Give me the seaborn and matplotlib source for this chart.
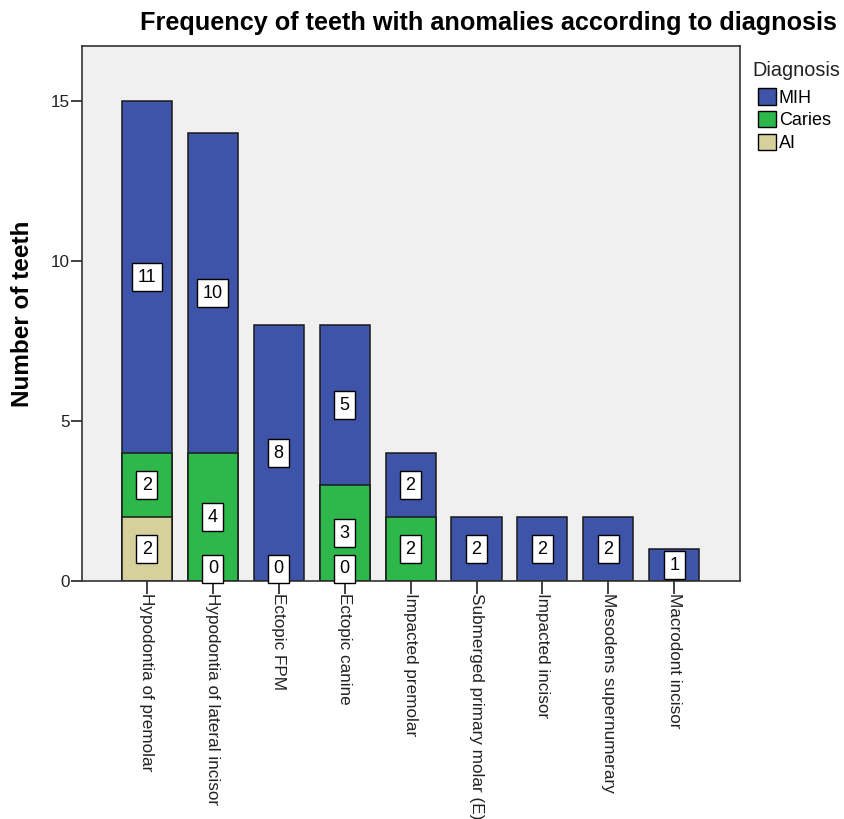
import numpy as np
import pandas as pd
import seaborn as sns
import matplotlib.pyplot as plt
from matplotlib.patches import Patch

categories = ['Hypodontia of premolar', 'Hypodontia of lateral incisor', 'Ectopic FPM',
              'Ectopic canine', 'Impacted premolar', 'Submerged primary molar (E)',
              'Impacted incisor', 'Mesodens supernumerary', 'Macrodont incisor']
ai = [2, 0, 0, 0, np.nan, np.nan, np.nan, np.nan, np.nan]
caries = [2, 4, np.nan, 3, 2, np.nan, np.nan, np.nan, np.nan]
mih = [11, 10, 8, 5, 2, 2, 2, 2, 1]

colors = {'MIH': '#3d54a8', 'Caries': '#2eb84b', 'AI': '#d6d09c'}

df = pd.DataFrame({'category': categories, 'AI': ai, 'Caries': caries, 'MIH': mih})
df['lvl_ai'] = df['AI'].fillna(0)
df['lvl_caries'] = df['lvl_ai'] + df['Caries'].fillna(0)
df['lvl_mih'] = df['lvl_caries'] + df['MIH'].fillna(0)

sns.set_style('white')
plt.rcParams['font.family'] = ['Liberation Sans', 'DejaVu Sans']
plt.rcParams['text.color'] = 'black'
plt.rcParams['axes.labelcolor'] = 'black'

fig = plt.figure(figsize=(8.45, 8.19), dpi=100)
ax = fig.add_axes([0.097, 0.2906, 0.779, 0.6532])
ax.set_facecolor('#f0f0f0')

# stacked bars: draw cumulative heights from the top layer down
for lvl, key in [('lvl_mih', 'MIH'), ('lvl_caries', 'Caries'), ('lvl_ai', 'AI')]:
    sns.barplot(data=df, x='category', y=lvl, color=colors[key], order=categories,
                width=0.76, edgecolor='#1a1a1a', linewidth=1.1, saturation=1, ax=ax)

# value labels
box = dict(boxstyle='square,pad=0.3', facecolor='white', edgecolor='black', linewidth=1.0)
for i, row in df.iterrows():
    base = 0.0
    for key in ['AI', 'Caries', 'MIH']:
        v = row[key]
        if pd.isna(v):
            continue
        if v == 0:
            ax.text(i, 0.12, '0', ha='center', va='bottom', fontsize=13, bbox=box, zorder=5)
        else:
            ax.text(i, base + v / 2, f'{int(v)}', ha='center', va='center', fontsize=13,
                    bbox=box, zorder=5)
        base += v

ax.set_xlim(-0.985, 9.0)
ax.set_ylim(0, 16.72)
ax.set_yticks([0, 5, 10, 15])
ax.set_xlabel('')
ax.set_ylabel('Number of teeth', fontsize=17.5, fontweight='bold', labelpad=12)
ax.set_xticks(range(len(categories)))
ax.set_xticklabels(categories, rotation=270, ha='center', va='top', fontsize=12.3)
ax.tick_params(axis='y', left=True, labelsize=12.3, length=8, width=1.3, color='#333333',
               labelcolor='#222222', pad=1)
ax.tick_params(axis='x', bottom=True, length=9, width=1.3, color='#333333',
               labelcolor='#222222', pad=0)
for s in ax.spines.values():
    s.set_color('#333333')
    s.set_linewidth(1.2)

fig.text(0.5775, 0.972, 'Frequency of teeth with anomalies according to diagnosis',
         ha='center', va='center', fontsize=18.2, fontweight='bold', color='black')

# legend, title placed separately so it sits left of the swatches
fig.text(0.89, 0.9145, 'Diagnosis', ha='left', va='center', fontsize=14.3, color='#222222')
handles = [Patch(facecolor=colors[k], edgecolor='black', label=k) for k in ['MIH', 'Caries', 'AI']]
fig.legend(handles=handles, loc='upper left', bbox_to_anchor=(0.897, 0.892),
           frameon=False, fontsize=13, handlelength=1.0, handleheight=1.0,
           handletextpad=0.15, labelspacing=0.25, borderaxespad=0, borderpad=0)

fig.savefig('out.png', dpi=100, facecolor='white')
